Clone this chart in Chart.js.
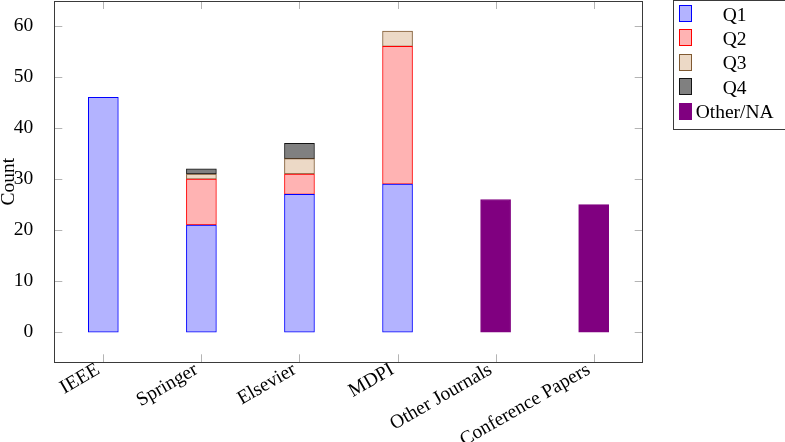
<!DOCTYPE html>
<html>
<head>
<meta charset="utf-8">
<script src="https://cdn.jsdelivr.net/npm/chart.js@4/dist/chart.umd.min.js"></script>
<style>
html,body{margin:0;padding:0;background:#fff;}
#wrap{width:785px;height:442px;position:relative;}
</style>
</head>
<body>
<div id="wrap"><canvas id="c" width="785" height="442"></canvas></div>
<script>
const categories = ['IEEE','Springer','Elsevier','MDPI','Other Journals','Conference Papers'];
const q1 = [46, 21, 27, 29, null, null];
const q2 = [null, 9, 4, 27, null, null];
const q3 = [null, 1, 3, 3, null, null];
const q4 = [null, 1, 3, null, null, null];
const otherNA = [null, null, null, null, 26, 25];
const seriesNames = ['Q1','Q2','Q3','Q4','Other/NA'];
const yTicks = [0, 10, 20, 30, 40, 50, 60];

const FONT = 'Liberation Serif, Times New Roman, serif';
const FS = 19.5;

const frame = {
  id: 'frame',
  afterDraw(chart) {
    const ctx = chart.ctx;
    const a = chart.chartArea;
    const xs = chart.scales.x, ys = chart.scales.y;
    ctx.save();
    // inward ticks
    ctx.strokeStyle = '#b4b4b4';
    ctx.lineWidth = 1;
    const tl = 8;
    ctx.beginPath();
    xs.ticks.forEach((t, i) => {
      const px = Math.round(xs.getPixelForTick(i)) + 0.5;
      ctx.moveTo(px, a.bottom); ctx.lineTo(px, a.bottom - tl);
      ctx.moveTo(px, a.top); ctx.lineTo(px, a.top + tl);
    });
    ys.ticks.forEach((t, i) => {
      const py = Math.round(ys.getPixelForValue(t.value)) + 0.5;
      ctx.moveTo(a.left, py); ctx.lineTo(a.left + tl, py);
      ctx.moveTo(a.right, py); ctx.lineTo(a.right - tl, py);
    });
    ctx.stroke();
    // axis box
    ctx.strokeStyle = '#3a3a3a';
    ctx.lineWidth = 1;
    ctx.strokeRect(Math.round(a.left) + 0.5, Math.round(a.top) + 0.5,
      Math.round(a.right - a.left), Math.round(a.bottom - a.top));

    // legend
    const lx = a.right + 30, ly = 0.5, lw = 111.5, lh = 128.5;
    ctx.fillStyle = '#fff';
    ctx.fillRect(lx, ly, lw, lh);
    ctx.strokeStyle = '#3a3a3a';
    ctx.strokeRect(Math.round(lx) + 0.5, ly, Math.round(lw), Math.round(lh));
    ctx.font = FS + 'px ' + FONT;
    ctx.textBaseline = 'middle';
    chart.data.datasets.forEach((ds, i) => {
      const cy = 13 + i * 24.4;
      const sx = Math.round(lx) + 6.5, sy = Math.round(cy - 8) + 0.5;
      ctx.fillStyle = ds.backgroundColor;
      ctx.fillRect(sx, sy, 12, 16);
      ctx.strokeStyle = ds.borderColor;
      ctx.lineWidth = 1;
      ctx.strokeRect(sx, sy, 12, 16);
      ctx.fillStyle = '#000';
      ctx.textAlign = 'center';
      ctx.fillText(ds.label, lx + 62, cy + 2.5);
    });
    ctx.restore();
  }
};

const mk = (label, data, fill, border) => ({
  label, data, backgroundColor: fill, borderColor: border,
  borderWidth: 1, borderSkipped: false, barThickness: 30
});

new Chart(document.getElementById('c'), {
  type: 'bar',
  data: {
    labels: categories,
    datasets: [
      mk(seriesNames[0], q1, 'rgb(179,179,255)', 'rgb(0,0,255)'),
      mk(seriesNames[1], q2, 'rgb(255,179,179)', 'rgb(255,0,0)'),
      mk(seriesNames[2], q3, 'rgb(236,217,198)', 'rgb(128,90,50)'),
      mk(seriesNames[3], q4, 'rgb(128,128,128)', 'rgb(20,20,20)'),
      mk(seriesNames[4], otherNA, 'rgb(128,0,128)', 'rgb(128,0,128)')
    ]
  },
  options: {
    responsive: false,
    animation: false,
    events: [],
    layout: { padding: { left: 0, top: 1, right: 142.3, bottom: 0 } },
    plugins: { legend: { display: false }, tooltip: { enabled: false } },
    scales: {
      x: {
        stacked: true,
        offset: true,
        grid: { display: false },
        border: { display: false },
        ticks: {
          color: '#000',
          font: { family: FONT, size: FS },
          maxRotation: 30, minRotation: 30, autoSkip: false,
          padding: -12, labelOffset: -5
        },
        afterFit(s) { s.height = 79.7; s.paddingLeft = 0; s.paddingRight = 0; }
      },
      y: {
        stacked: true,
        min: -5.9, max: 64.9,
        grid: { display: false },
        border: { display: false },
        afterBuildTicks(s) { s.ticks = yTicks.map(v => ({ value: v })); },
        ticks: {
          color: '#000',
          font: { family: FONT, size: FS },
          padding: 13
        },
        title: {
          display: true, text: 'Count', color: '#000',
          font: { family: FONT, size: FS, lineHeight: 0.9 },
          padding: { top: 0, bottom: 0 }
        },
        afterFit(s) { s.width = 54.3; s.paddingTop = 0; s.paddingBottom = 0; }
      }
    }
  },
  plugins: [frame]
});
</script>
</body>
</html>
